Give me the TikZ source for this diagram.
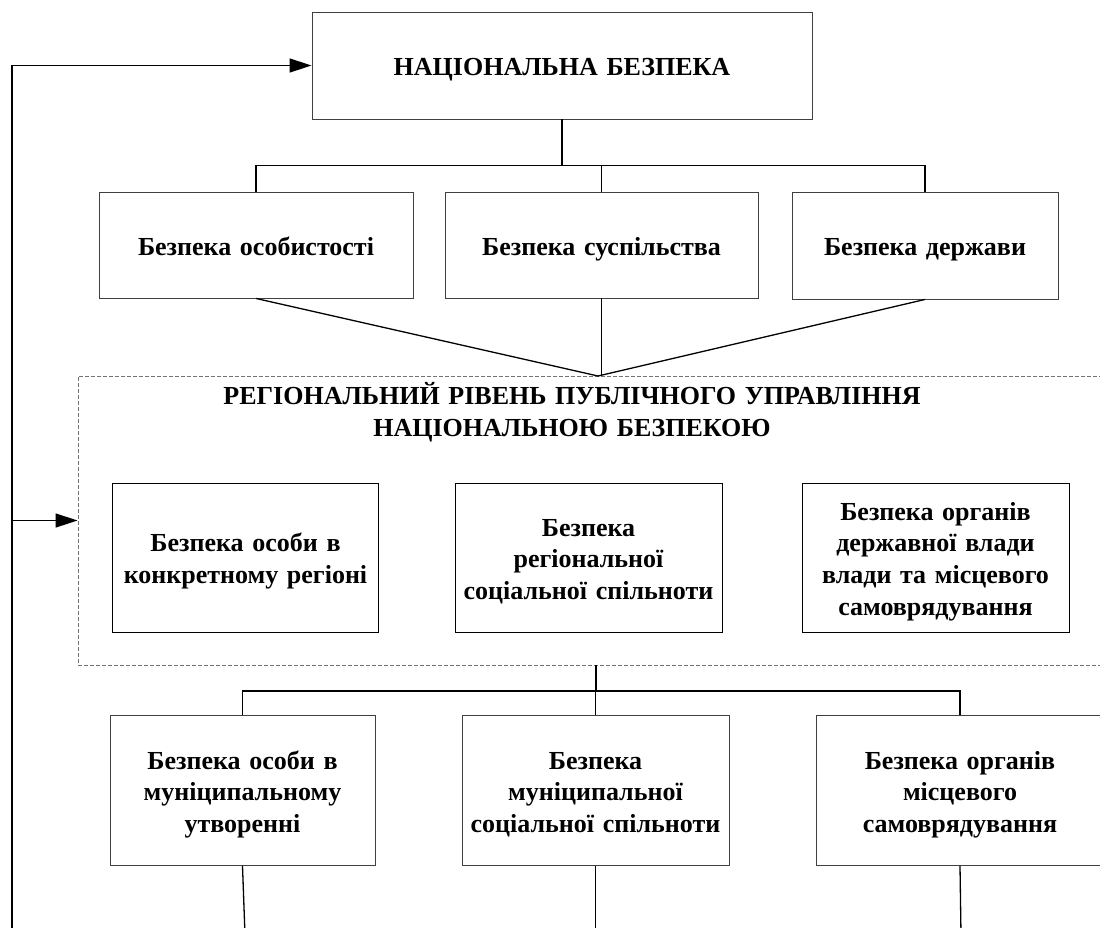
\documentclass[tikz,border=0pt]{standalone}
\usepackage{fontspec}
\setmainfont{Liberation Serif}
\usepackage{tikz}
\usetikzlibrary{arrows.meta,positioning}
\tikzstyle{blok}=[rectangle,draw=black!75,line width=0.9pt,inner sep=0pt,align=center,text width=258pt,font=\fontsize{26}{31.7}\selectfont\bfseries,execute at begin node={\rule{0pt}{30pt}},execute at end node=\strut]
\tikzstyle{rivni}=[rectangle,draw=black!55,line width=0.9pt,dash pattern=on 4pt off 2pt,inner sep=0pt]
\tikzstyle{lin}=[line width=1.3pt,black]
\tikzstyle{zvorot}=[line width=1.3pt,black,-{Triangle[length=22pt,width=14pt]}]

\begin{document}
\begin{tikzpicture}[x=1pt,y=-1pt]
    \useasboundingbox (0,0) rectangle (1100,927);

    % Вузли
    \node[blok, text width=480pt, minimum width=500pt, minimum height=107pt] (nb) at (562,65.5) {НАЦІОНАЛЬНА БЕЗПЕКА};

    \node[blok, minimum width=314pt, minimum height=106pt] (os1) at (256,245) {Безпека особистості};
    \node[blok, minimum width=313pt, minimum height=106pt] (os2) at (601.5,245) {Безпека суспільства};
    \node[blok, minimum width=266pt, minimum height=107pt] (os3) at (925,245.5) {Безпека держави};

    \node[rivni, minimum width=1040pt, minimum height=289pt] (reg) at (598,520.5) {};
    \node[blok, draw=none, text width=800pt] (nazva) at (572,410) {РЕГІОНАЛЬНИЙ РІВЕНЬ ПУБЛІЧНОГО УПРАВЛІННЯ\\НАЦІОНАЛЬНОЮ БЕЗПЕКОЮ};

    \node[blok, draw=black, minimum width=266pt, minimum height=149pt] (rg1) at (245.5,557.5) {Безпека особи в\\конкретному регіоні};
    \node[blok, draw=black, minimum width=267pt, minimum height=149pt] (rg2) at (588.5,557.5) {Безпека\\регіональної\\соціальної спільноти};
    \node[blok, draw=black, minimum width=267pt, minimum height=149pt] (rg3) at (935.5,557.5) {Безпека органів\\державної влади\\влади та місцевого\\самоврядування};

    \node[blok, minimum width=265pt, minimum height=150pt] (mn1) at (242.5,790.5) {Безпека особи в\\муніципальному\\утворенні};
    \node[blok, minimum width=267pt, minimum height=150pt] (mn2) at (595.5,790.5) {Безпека\\муніципальної\\соціальної спільноти};
    \node[blok, minimum width=288pt, minimum height=150pt] (mn3) at (960,790.5) {Безпека органів\\місцевого\\самоврядування};

    % Точки
    \coordinate (v1) at (562,165.5);
    \coordinate (zb) at (598,376);
    \coordinate (v2) at (596,691);
    \coordinate (k0) at (12,935);
    \coordinate (k1) at (245,935);
    \coordinate (k2) at (595.5,935);
    \coordinate (k3) at (961,935);

    % Зв'язки
    \draw [lin] (nb.south -| v1) -- (v1);
    \draw [lin] (os1.north) |- (os3.north |- v1) -- (os3.north);
    \draw [lin] (os2.north) -- (os2.north |- v1);

    \draw [lin] (os1.south) -- (zb);
    \draw [lin] (os2.south) -- (os2.south |- zb);
    \draw [lin] (os3.south) -- (zb);

    \draw [lin] (reg.south -| v2) -- (v2);
    \draw [lin] (mn1.north) |- (mn3.north |- v2) -- (mn3.north);
    \draw [lin] (mn2.north) -- (mn2.north |- v2);

    \draw [lin] (mn1.south) -- (k1);
    \draw [lin] (mn2.south) -- (k2);
    \draw [lin] (mn3.south) -- (k3);

    % Зворотний зв'язок
    \draw [zvorot] (k0) |- (nb.west);
    \draw [zvorot] (k0 |- reg.west) -- (reg.west);

\end{tikzpicture}
\end{document}
